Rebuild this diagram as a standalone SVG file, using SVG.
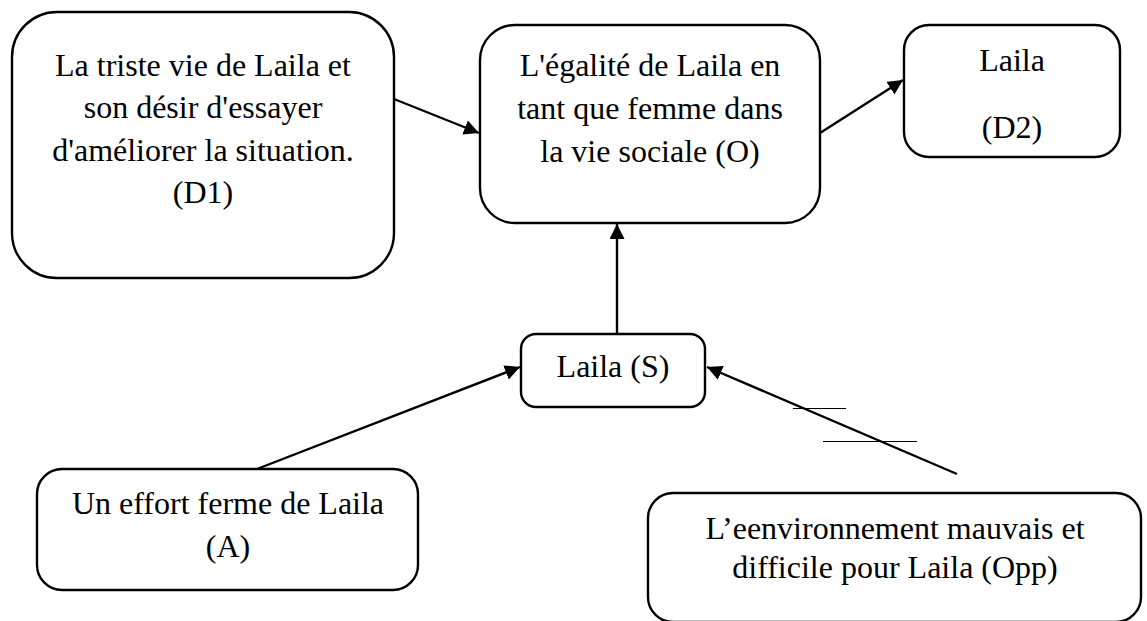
<svg xmlns="http://www.w3.org/2000/svg" width="1147" height="621" viewBox="0 0 1147 621">
<style>
.box{fill:#fff;stroke:#000;stroke-width:2.4}
.t{font-family:"Liberation Serif","Times New Roman",serif;font-size:32px;fill:#000;text-anchor:middle}
.c{stroke:#000;stroke-width:2.4;fill:none}
.thin{stroke:#000;stroke-width:1;fill:none}
</style>
<defs>
<marker id="arr" markerUnits="userSpaceOnUse" markerWidth="16" markerHeight="16" refX="15" refY="7.5" orient="auto">
<path d="M0,0 L15,7.5 L0,15 z" fill="#000"/>
</marker>
</defs>
<rect width="1147" height="621" fill="#fff"/>
<g id="connectors">
<line class="c" x1="394" y1="99" x2="479" y2="133" marker-end="url(#arr)"/>
<line class="c" x1="820" y1="133" x2="903" y2="80" marker-end="url(#arr)"/>
<line class="c" x1="617" y1="333" x2="617" y2="224" marker-end="url(#arr)"/>
<line class="c" x1="257" y1="469" x2="520" y2="367" marker-end="url(#arr)"/>
<line class="c" x1="957" y1="474" x2="707" y2="367" marker-end="url(#arr)"/>
<line class="thin" x1="793" y1="408.5" x2="846" y2="408.5"/>
<line class="thin" x1="823" y1="441.5" x2="917" y2="441.5"/>
</g>
<g id="D1">
<rect class="box" x="12" y="12" width="382" height="266" rx="45"/>
<text class="t" x="203" y="76">La triste vie de Laila et</text>
<text class="t" x="203" y="118">son désir d'essayer</text>
<text class="t" x="203" y="161">d'améliorer la situation.</text>
<text class="t" x="203" y="203">(D1)</text>
</g>
<g id="O">
<rect class="box" x="480" y="25" width="340" height="198" rx="35"/>
<text class="t" x="650" y="76">L'égalité de Laila en</text>
<text class="t" x="650" y="119">tant que femme dans</text>
<text class="t" x="650" y="162">la vie sociale (O)</text>
</g>
<g id="D2">
<rect class="box" x="904" y="25" width="216" height="132" rx="25"/>
<text class="t" x="1012" y="71">Laila</text>
<text class="t" x="1012" y="138">(D2)</text>
</g>
<g id="S">
<rect class="box" x="521" y="334" width="184" height="73" rx="15"/>
<text class="t" x="613" y="377">Laila (S)</text>
</g>
<g id="A">
<rect class="box" x="37" y="469" width="381" height="121" rx="25"/>
<text class="t" x="228" y="514">Un effort ferme de Laila</text>
<text class="t" x="228" y="557">(A)</text>
</g>
<g id="Opp">
<rect class="box" x="648" y="493" width="493" height="129" rx="25"/>
<text class="t" x="895" y="539">L’eenvironnement mauvais et</text>
<text class="t" x="895" y="578">difficile pour Laila (Opp)</text>
</g>
</svg>
